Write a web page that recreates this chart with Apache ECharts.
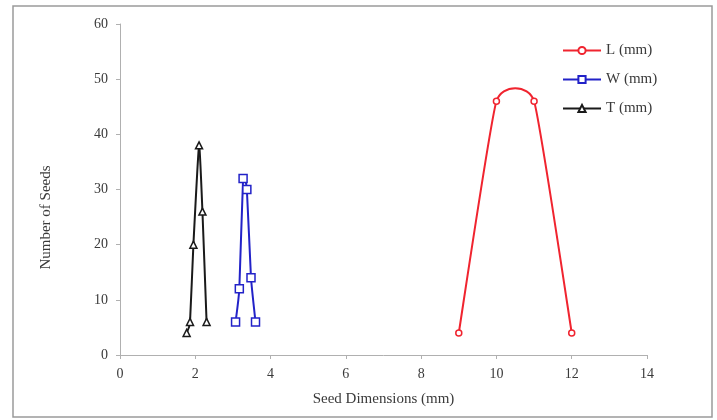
<!DOCTYPE html>
<html>
<head>
<meta charset="utf-8">
<script src="https://cdn.jsdelivr.net/npm/echarts@6/dist/echarts.min.js"></script>
<style>
  html, body { margin: 0; padding: 0; background: #fff; }
  #chart { width: 717px; height: 420px; }
</style>
</head>
<body>
<div id="chart"></div>
<script>
// values: [seed dimension (mm), number of seeds]
const lengthData = [[9, 4], [10, 46], [11, 46], [12, 4]]
const widthData = [[3.07, 6], [3.17, 12], [3.27, 32], [3.37, 30], [3.48, 14], [3.6, 6]]
const thickData = [[1.77, 4], [1.86, 6], [1.95, 20], [2.1, 38], [2.19, 26], [2.3, 6]]
const seriesNames = ['L (mm)', 'W (mm)', 'T (mm)']
const seriesColors = ['#f0242f', '#2222c8', '#1a1a1a']

const font = 'Liberation Serif, Times New Roman, serif'
const textColor = '#3a3a3a'
const axisColor = '#b0b0b0'
// excel-like smoothing, small tension so the peaks overshoot a little
const tension = 0.075

const chart = echarts.init(document.getElementById('chart'))

// one bezier segment per point (point i -> i+1), control points from neighbours
const curveSeries = (name, data, color) => ({
  name: name + ' curve',
  type: 'custom',
  data: data,
  silent: true,
  z: 1,
  renderItem: (params, api) => {
    const i = params.dataIndex
    if (i >= data.length - 1) return null
    const p0 = api.coord(data[Math.max(i - 1, 0)])
    const p1 = api.coord(data[i])
    const p2 = api.coord(data[i + 1])
    const p3 = api.coord(data[Math.min(i + 2, data.length - 1)])
    return {
      type: 'bezierCurve',
      shape: {
        x1: p1[0],
        y1: p1[1],
        cpx1: p1[0] + (p2[0] - p0[0]) * tension,
        cpy1: p1[1] + (p2[1] - p0[1]) * tension,
        cpx2: p2[0] - (p3[0] - p1[0]) * tension,
        cpy2: p2[1] - (p3[1] - p1[1]) * tension,
        x2: p2[0],
        y2: p2[1]
      },
      style: { stroke: color, lineWidth: 2, fill: null }
    }
  }
})

// markers (and the legend entry) for each series
const markerSeries = (name, data, color, symbol, size) => ({
  name: name,
  type: 'line',
  data: data,
  symbol: symbol,
  symbolSize: size,
  showAllSymbol: true,
  z: 3,
  lineStyle: { color: color, width: 2, opacity: 0 },
  itemStyle: { color: '#fff', borderColor: color, borderWidth: 1.5 },
  emphasis: { disabled: true }
})

chart.setOption({
  animation: false,
  backgroundColor: '#fff',
  textStyle: { fontFamily: font },
  graphic: [
    {
      type: 'rect',
      shape: { x: 13, y: 6, width: 699, height: 411 },
      style: { fill: 'none', stroke: '#9a9a9a', lineWidth: 1.5 },
      silent: true
    }
  ],
  grid: { left: 120, right: 70, top: 24, bottom: 65 },
  legend: {
    orient: 'vertical',
    left: 557,
    top: 38,
    itemWidth: 38,
    itemHeight: 9,
    itemGap: 14,
    data: seriesNames.map((n, i) => ({
      name: n,
      lineStyle: { opacity: 1, color: seriesColors[i], width: 2 }
    })),
    textStyle: { fontFamily: font, fontSize: 15, color: textColor }
  },
  xAxis: {
    type: 'value',
    min: 0,
    max: 14,
    interval: 2,
    name: 'Seed Dimensions (mm)',
    nameLocation: 'middle',
    nameGap: 37,
    nameTextStyle: { fontFamily: font, fontSize: 15, color: textColor },
    axisLine: { show: true, lineStyle: { color: axisColor, width: 1 } },
    axisTick: { show: true, length: 4, lineStyle: { color: axisColor } },
    axisLabel: { fontFamily: font, fontSize: 14, color: textColor, margin: 12 },
    splitLine: { show: false }
  },
  yAxis: {
    type: 'value',
    min: 0,
    max: 60,
    interval: 10,
    name: 'Number of Seeds',
    nameLocation: 'middle',
    nameGap: 66,
    nameTextStyle: { fontFamily: font, fontSize: 15, color: textColor, padding: [0, 56, 0, 0] },
    axisLine: { show: true, lineStyle: { color: axisColor, width: 1 } },
    axisTick: { show: true, length: 4, lineStyle: { color: axisColor } },
    axisLabel: { fontFamily: font, fontSize: 14, color: textColor, margin: 12 },
    splitLine: { show: false }
  },
  series: [
    curveSeries(seriesNames[0], lengthData, seriesColors[0]),
    curveSeries(seriesNames[1], widthData, seriesColors[1]),
    curveSeries(seriesNames[2], thickData, seriesColors[2]),
    markerSeries(seriesNames[0], lengthData, seriesColors[0], 'circle', 6),
    markerSeries(seriesNames[1], widthData, seriesColors[1], 'rect', 8),
    markerSeries(seriesNames[2], thickData, seriesColors[2], 'triangle', 7)
  ]
})
</script>
</body>
</html>
